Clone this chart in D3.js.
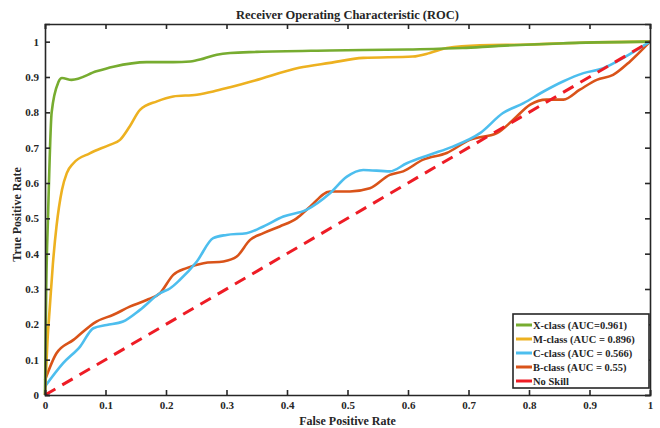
<!DOCTYPE html>
<html lang="en">
<head>
<meta charset="utf-8">
<title>ROC</title>
<script src="https://d3js.org/d3.v7.min.js"></script>
<style>
  body { margin: 0; background: #fff; }
  text { font-family: "Liberation Serif", "Times New Roman", serif; font-weight: bold; fill: #262626; }
</style>
</head>
<body>
<svg width="660" height="428"></svg>
<script>
// data
var xFpr = [0, 0.002, 0.005, 0.011, 0.022, 0.028, 0.044, 0.085, 0.113, 0.168, 0.212, 0.24, 0.262, 0.284, 0.306, 0.35, 0.471, 0.6, 0.69, 0.75, 0.85, 1];
var xTpr = [0, 0.3, 0.504, 0.8, 0.885, 0.897, 0.892, 0.916, 0.929, 0.942, 0.942, 0.944, 0.952, 0.963, 0.968, 0.971, 0.975, 0.978, 0.982, 0.988, 0.995, 1];

var mFpr = [0, 0.004, 0.008, 0.013, 0.019, 0.028, 0.036, 0.047, 0.074, 0.107, 0.124, 0.14, 0.157, 0.185, 0.212, 0.251, 0.278, 0.306, 0.347, 0.42, 0.471, 0.526, 0.608, 0.636, 0.664, 0.719, 0.8, 0.884, 1];
var mTpr = [0, 0.15, 0.25, 0.37, 0.477, 0.58, 0.628, 0.656, 0.684, 0.708, 0.722, 0.76, 0.807, 0.831, 0.845, 0.85, 0.859, 0.871, 0.89, 0.926, 0.94, 0.954, 0.958, 0.968, 0.982, 0.99, 0.992, 0.997, 1];

var cFpr = [0, 0.03, 0.058, 0.08, 0.102, 0.129, 0.157, 0.19, 0.207, 0.223, 0.251, 0.278, 0.3, 0.333, 0.361, 0.394, 0.432, 0.471, 0.499, 0.526, 0.57, 0.598, 0.636, 0.674, 0.719, 0.757, 0.791, 0.824, 0.857, 0.89, 0.923, 0.956, 1];
var cTpr = [0.024, 0.09, 0.137, 0.189, 0.198, 0.208, 0.241, 0.288, 0.302, 0.326, 0.378, 0.444, 0.453, 0.458, 0.477, 0.505, 0.524, 0.571, 0.618, 0.637, 0.633, 0.656, 0.68, 0.703, 0.741, 0.798, 0.826, 0.859, 0.888, 0.911, 0.925, 0.954, 1];

var bFpr = [0, 0.019, 0.047, 0.085, 0.113, 0.14, 0.168, 0.19, 0.212, 0.234, 0.262, 0.295, 0.317, 0.339, 0.361, 0.388, 0.416, 0.438, 0.471, 0.504, 0.537, 0.57, 0.592, 0.625, 0.664, 0.702, 0.747, 0.774, 0.802, 0.829, 0.857, 0.884, 0.912, 0.939, 0.967, 1];
var bTpr = [0.042, 0.118, 0.156, 0.208, 0.227, 0.25, 0.269, 0.288, 0.34, 0.359, 0.373, 0.378, 0.392, 0.439, 0.458, 0.477, 0.5, 0.533, 0.576, 0.576, 0.585, 0.623, 0.633, 0.666, 0.685, 0.722, 0.741, 0.779, 0.822, 0.836, 0.836, 0.864, 0.892, 0.906, 0.944, 1];

var skill = [0, 1];

var seriesNames = ["X-class (AUC=0.961)", "M-class (AUC = 0.896)", "C-class (AUC = 0.566)", "B-class (AUC = 0.55)", "No Skill"];
var colors = ["#77ac30", "#edb120", "#4dbeee", "#d95319", "#ee1c25"];
var ticks = [0, 0.1, 0.2, 0.3, 0.4, 0.5, 0.6, 0.7, 0.8, 0.9, 1];

var svg = d3.select("svg");
var margin = {top: 24, right: 10, bottom: 33, left: 45};
var w = 660 - margin.left - margin.right;
var h = 428 - margin.top - margin.bottom;
var g = svg.append("g").attr("transform", "translate(" + margin.left + "," + margin.top + ")");

var x = d3.scaleLinear().domain([0, 1]).range([0, w]);
var y = d3.scaleLinear().domain([0, 1.05]).range([h, 0]);

function zip(a, b) { return a.map(function(v, i) { return [v, b[i]]; }); }
var series = [zip(xFpr, xTpr), zip(mFpr, mTpr), zip(cFpr, cTpr), zip(bFpr, bTpr)];

var line = d3.line()
    .x(function(d) { return x(d[0]); })
    .y(function(d) { return y(d[1]); })
    .curve(d3.curveMonotoneX);

// curves, drawn so that green ends up on top like the reference
var order = [3, 2, 1, 0];
order.forEach(function(i) {
    g.append("path")
        .datum(series[i])
        .attr("fill", "none")
        .attr("stroke", colors[i])
        .attr("stroke-width", 2.6)
        .attr("d", line);
});

g.append("path")
    .datum(zip(skill, skill))
    .attr("fill", "none")
    .attr("stroke", colors[4])
    .attr("stroke-width", 3)
    .attr("stroke-dasharray", "12,8")
    .attr("d", d3.line().x(function(d) { return x(d[0]); }).y(function(d) { return y(d[1]); }));

// axes, ticks inward on all four sides
var fmt = function(d) { return d === 0 || d === 1 ? d3.format("d")(d) : d3.format(".1f")(d); };
var axB = g.append("g").attr("transform", "translate(0," + h + ")")
    .call(d3.axisBottom(x).tickValues(ticks).tickSize(-5).tickPadding(6).tickFormat(fmt));
var axL = g.append("g")
    .call(d3.axisLeft(y).tickValues(ticks).tickSize(-5).tickPadding(6).tickFormat(fmt));
var axT = g.append("g")
    .call(d3.axisTop(x).tickValues(ticks).tickSize(-5).tickFormat(""));
var axR = g.append("g").attr("transform", "translate(" + w + ",0)")
    .call(d3.axisRight(y).tickValues(ticks).tickSize(-5).tickFormat(""));

[axB, axL, axT, axR].forEach(function(a) {
    a.select(".domain").attr("stroke", "#262626").attr("stroke-width", 1.6);
    a.selectAll(".tick line").attr("stroke", "#262626").attr("stroke-width", 1.6);
    a.selectAll("text").style("font-family", "Liberation Serif, serif").style("font-weight", "bold").style("font-size", "11px").attr("fill", "#262626");
});

// titles
svg.append("text").attr("x", margin.left + w / 2).attr("y", 19).attr("text-anchor", "middle")
    .style("font-size", "12.5px").text("Receiver Operating Characteristic (ROC)");
svg.append("text").attr("x", margin.left + w / 2).attr("y", 425).attr("text-anchor", "middle")
    .style("font-size", "12px").text("False Positive Rate");
svg.append("text").attr("transform", "translate(21," + (margin.top + h / 2 + 5) + ") rotate(-90)")
    .attr("text-anchor", "middle").style("font-size", "12px").text("True Positive Rate");

// legend
var lg = svg.append("g").attr("transform", "translate(513,314)");
lg.append("rect").attr("width", 136).attr("height", 74)
    .attr("fill", "#fff").attr("stroke", "#262626").attr("stroke-width", 1.6);
var items = lg.selectAll(".item").data(seriesNames).enter().append("g")
    .attr("transform", function(d, i) { return "translate(0," + (11 + i * 14) + ")"; });
items.append("line").attr("x1", 3).attr("x2", 19)
    .attr("stroke", function(d, i) { return colors[i]; }).attr("stroke-width", 3);
items.append("text").attr("x", 20).attr("dy", "0.35em").style("font-size", "10.5px")
    .text(function(d) { return d; });
</script>
</body>
</html>
